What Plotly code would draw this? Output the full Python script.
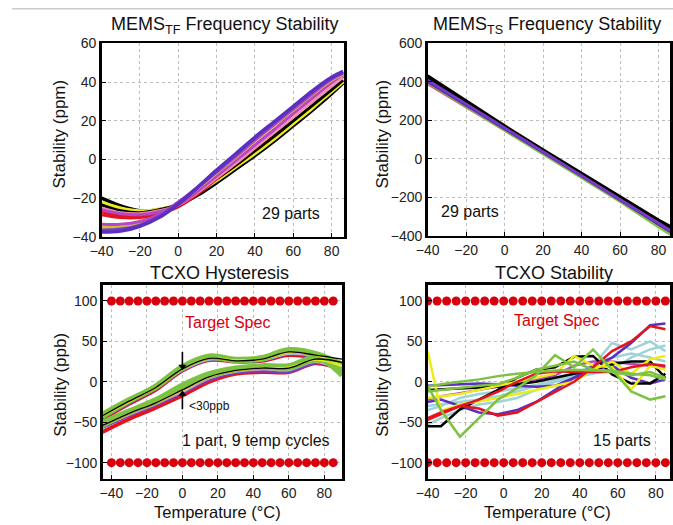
import plotly.graph_objects as go

# ---------------- DATA ----------------
# Panel 1: MEMS_TF frequency stability (ppm) vs temperature
tf_temps = [-40, -30, -20, -10, 0, 10, 20, 30, 40, 50, 60, 70, 80, 86]
tf_black1 = [-20, -24, -26.5, -26, -23.5, -18.5, -12, -5, 2, 9.5, 17.5, 25.5, 34, 39.5]
tf_yellow1 = [-22, -25, -26.5, -25.5, -23, -17.5, -11, -4, 3, 10.5, 18.5, 26.5, 35, 40]
tf_black2 = [-23.5, -26.5, -27.5, -26, -23, -17, -10, -3, 4.5, 12, 20, 28, 36, 41]
tf_pink = [-25, -27.5, -28, -26.5, -23.5, -17, -9.5, -2, 6, 14, 22, 30, 38, 42.5]
tf_red1 = [-27, -29, -29.5, -27.5, -24, -17.5, -9.5, -1.5, 6.5, 14.5, 23, 31, 39, 43]
tf_red2 = [-28.5, -30, -30, -28, -24.5, -18, -10, -2, 6, 14, 22.5, 30.5, 38.5, 43]
tf_magenta1 = [-26, -28, -28.5, -27, -23.5, -16.5, -8.5, -0.5, 7.5, 15.5, 24, 32, 40, 44]
tf_magenta2 = [-33.5, -33.5, -32, -28.5, -22, -14.5, -6.5, 1.5, 10, 18, 26, 34, 41.5, 44.5]
tf_olive = [-35, -35, -33, -29, -22.5, -15, -7, 1, 9.5, 17.5, 25.5, 33.5, 41, 44]
tf_purple = [-36.5, -36, -34, -29.5, -22.5, -14.5, -6, 2.5, 11, 19, 27, 35, 42, 45]
tf_violet = [-37.5, -37, -34.5, -30, -23, -14.5, -5.5, 3, 11.5, 19.5, 27.5, 35.5, 42.5, 45.5]

# Panel 2: MEMS_TS frequency stability (ppm)
ts_temps = [-40, -20, 0, 20, 40, 60, 80, 86]
ts_black1 = [432, 300, 172, 48, -75, -198, -318, -350]
ts_black2 = [420, 292, 166, 42, -80, -203, -325, -358]
ts_magenta = [405, 282, 158, 35, -88, -213, -338, -374]
ts_purple = [410, 285, 160, 37, -86, -210, -335, -370]
ts_red = [392, 272, 152, 31, -91, -216, -345, -382]
ts_pink = [388, 268, 150, 30, -92, -218, -348, -385]
ts_green = [395, 272, 150, 28, -95, -222, -355, -392]
ts_violet = [400, 278, 155, 33, -90, -215, -342, -378]

# Panel 3: TCXO hysteresis (ppb), 1 part, 9 temperature cycles
hy_temps = [-45, -30, -15, 0, 15, 30, 45, 60, 75, 90]
hy_lower_g1 = [-52, -37, -23, -6, 8, 16, 19, 18, 28, 18]
hy_upper_g1 = [-40, -22, -6, 18, 31, 27, 29, 39, 34, 12]
hy_lower_g2 = [-50, -36, -22, -4, 10, 17, 20, 20, 30, 10]
hy_upper_g2 = [-43, -24, -7, 17, 30, 26, 28, 38, 33, 8]
hy_lower_g3 = [-54, -38, -25, -8, 7, 15, 18, 17, 27, 20]
hy_upper_g3 = [-41, -23, -5, 19, 32, 28, 30, 40, 35, 22]
hy_lower_black = [-54, -39, -26, -10, 6, 14, 17, 17, 28, 24]
hy_upper_black = [-42, -24, -7, 16, 29, 26, 28, 37, 33, 28]
hy_lower_purple = [-56, -41, -28, -13, 3, 12, 14, 13, 24, 18]
hy_upper_purple = [-44, -26, -8, 15, 28, 26, 27, 35, 31, 20]
hy_lower_red = [-62, -46, -32, -17, 0, 10, 12, 12, 23, 15]
hy_upper_red = [-46, -27, -10, 14, 27, 25, 26, 33, 29, 18]
hy_lower_pink = [-55, -40, -27, -11, 5, 14, 16, 16, 26, 17]
hy_upper_pink = [-43, -25, -7, 17, 29, 26, 28, 36, 32, 16]
hy_lower_yellow = [-53, -39, -26, -11, 6, 14, 17, 18, 27, 19]
hy_upper_yellow = [-42, -25, -7, 16, 29, 27, 28, 36, 33, 20]
hy_lower_lblue = [-54, -40, -26, -12, 5, 13, 16, 15, 25, 14]
hy_upper_lblue = [-43, -24, -8, 15, 28, 26, 27, 35, 31, 14]

# "<30ppb" hysteresis markers at 0 degC: [tail, head] in ppb
hy_arrow_temp = 0
hy_arrow_top = [37, 19]
hy_arrow_bottom = [-34, -15]

# Panel 4: TCXO stability (ppb), 15 parts
st_temps = [-40, -33, -23, -13, -3, 7, 17, 27, 37, 47, 57, 67, 77, 85]
st_green1 = [-5, -35, -68, -45, -22, -8, 8, 33, 18, 40, 15, -12, -22, -18]
st_green2 = [-6, -3, 0, 3, 7, 10, 12, 14, 15, 14, 14, 10, 8, 3]
st_green3 = [-12, -10, -8, -5, -3, 5, 15, 20, 25, 15, 12, 8, 12, 5]
st_yellow1 = [38, -36, -28, -24, -20, -15, -10, -5, 0, 15, 25, 10, 28, 32]
st_yellow2 = [-20, -18, -15, -10, -5, 0, 5, 10, 32, 20, 18, -10, 20, 15]
st_black1 = [-55, -55, -34, -22, -10, 5, 15, 18, 31, 32, 9, -2, -2, 10]
st_black2 = [-10, -9, -8, -7, -6, -3, 0, 5, 10, 15, 22, 25, 25, 5]
st_red1 = [-47, -40, -30, -33, -42, -38, -25, -12, 0, 18, 38, 50, 69, 65]
st_red2 = [-45, -38, -30, -22, -12, 0, 10, 13, 12, 12, 12, 18, 22, 20]
st_violet1 = [-25, -22, -30, -38, -40, -35, -25, -10, 5, 20, 30, 48, 70, 72]
st_violet2 = [-5, -4, -3, -2, -3, -5, -6, -5, 5, 15, 20, 5, -2, 3]
st_magenta = [-22, -18, -14, -10, -6, -2, 2, 8, 20, 25, 25, 22, 20, 18]
st_lblue1 = [-53, -45, -35, -28, -25, -20, -10, 0, 10, 20, 48, 40, 50, 38]
st_lblue2 = [-30, -28, -25, -22, -18, -12, -5, 0, 5, 10, 15, 30, 40, 45]
st_lblue3 = [-35, -30, -20, -15, -12, -8, -4, 2, 8, 12, 30, 35, 30, 25]

# Target spec limits (ppb) at temperature points
spec_temps = [-40, -35, -30, -25, -20, -15, -10, -5, 0, 5, 10, 15, 20, 25, 30,
              35, 40, 45, 50, 55, 60, 65, 70, 75, 80, 85]
spec_limits = [100, -100]

# Tick labels
tf_yticks = [-40, -20, 0, 20, 40, 60]
ts_yticks = [-400, -200, 0, 200, 400, 600]
ppb_yticks = [-100, -50, 0, 50, 100]
temp_ticks = [-40, -20, 0, 20, 40, 60, 80]

# ---------------- STYLE ----------------
C_BLACK = "#000000"
C_YELLOW = "#ecec1a"
C_RED = "#e3141e"
C_PINK = "#f08cb8"
C_MAGENTA = "#b845c4"
C_PURPLE = "#7a3cc4"
C_VIOLET = "#5b2fc0"
C_OLIVE = "#c8c040"
C_GREEN = "#7dc242"
C_LBLUE = "#9fd3dc"
C_SPEC = "#d8000c"

FONT = "Liberation Sans, Arial, sans-serif"

fig = go.Figure()

def add_lines(xs, series, xa, ya, shape="linear"):
    for ys, color, w in series:
        fig.add_trace(go.Scatter(
            x=xs, y=ys, mode="lines", xaxis=xa, yaxis=ya,
            line=dict(color=color, width=w, shape=shape),
            hoverinfo="skip", showlegend=False))

# Panel 1
add_lines(tf_temps, [
    (tf_black1, C_BLACK, 3.5), (tf_yellow1, C_YELLOW, 3), (tf_black2, C_BLACK, 3),
    (tf_red2, C_RED, 3), (tf_red1, C_RED, 3), (tf_pink, C_PINK, 3),
    (tf_magenta1, C_MAGENTA, 3), (tf_olive, C_OLIVE, 3), (tf_magenta2, C_MAGENTA, 3),
    (tf_purple, C_PURPLE, 3.5), (tf_violet, C_VIOLET, 3.5),
], "x", "y", "spline")

# Panel 2
add_lines(ts_temps, [
    (ts_black1, C_BLACK, 3), (ts_black2, C_BLACK, 3),
    (ts_pink, C_PINK, 2.5), (ts_red, C_RED, 2.5), (ts_green, C_GREEN, 2.5),
    (ts_magenta, C_MAGENTA, 2.5), (ts_violet, C_VIOLET, 2.5), (ts_purple, C_PURPLE, 2.5),
], "x2", "y2")

# Panel 3
hy_cycles = [
    (hy_lower_red, hy_upper_red, C_RED, 4),
    (hy_lower_purple, hy_upper_purple, C_PURPLE, 4),
    (hy_lower_lblue, hy_upper_lblue, C_LBLUE, 3),
    (hy_lower_pink, hy_upper_pink, C_PINK, 3),
    (hy_lower_g1, hy_upper_g1, C_GREEN, 5),
    (hy_lower_g2, hy_upper_g2, C_GREEN, 5),
    (hy_lower_g3, hy_upper_g3, C_GREEN, 5),
    (hy_lower_yellow, hy_upper_yellow, C_YELLOW, 1.5),
    (hy_lower_black, hy_upper_black, C_BLACK, 1.3),
]
for lo, up, color, w in hy_cycles:
    add_lines(hy_temps, [(lo, color, w), (up, color, w)], "x3", "y3", "spline")

# hysteresis arrows (shaft + head)
for tail_head, sym in ((hy_arrow_top, "triangle-down"), (hy_arrow_bottom, "triangle-up")):
    fig.add_trace(go.Scatter(
        x=[hy_arrow_temp, hy_arrow_temp], y=tail_head, mode="lines",
        xaxis="x3", yaxis="y3", line=dict(color="black", width=1.6),
        hoverinfo="skip", showlegend=False))
    fig.add_trace(go.Scatter(
        x=[hy_arrow_temp], y=[tail_head[1]], mode="markers",
        xaxis="x3", yaxis="y3",
        marker=dict(symbol=sym, size=7, color="black", line=dict(width=0)),
        hoverinfo="skip", showlegend=False))

# Panel 4
add_lines(st_temps, [
    (st_lblue3, C_LBLUE, 2.5), (st_lblue2, C_LBLUE, 2.5), (st_lblue1, C_LBLUE, 2.5),
    (st_magenta, C_MAGENTA, 2.5), (st_violet2, C_VIOLET, 2.5), (st_violet1, C_VIOLET, 2.5),
    (st_black2, C_BLACK, 2.5), (st_black1, C_BLACK, 2.5),
    (st_yellow2, C_YELLOW, 2.5), (st_yellow1, C_YELLOW, 2.5),
    (st_red2, C_RED, 2.5), (st_red1, C_RED, 2.5),
    (st_green3, C_GREEN, 2.5), (st_green2, C_GREEN, 2.5), (st_green1, C_GREEN, 2.5),
], "x4", "y4")

# Spec dots
for xa, ya in (("x3", "y3"), ("x4", "y4")):
    for lim in spec_limits:
        fig.add_trace(go.Scatter(
            x=spec_temps, y=[lim] * len(spec_temps), mode="markers",
            xaxis=xa, yaxis=ya, marker=dict(color=C_SPEC, size=9, line=dict(width=0)),
            hoverinfo="skip", showlegend=False))

def ax_style(**kw):
    d = dict(showline=True, linecolor="black", linewidth=2.5, mirror=True,
             ticks="inside", ticklen=4, tickcolor="black", tickwidth=1,
             showgrid=True, gridcolor="#bdbdbd", griddash="dot", gridwidth=1,
             zeroline=False, tickfont=dict(family=FONT, size=14, color="#222"),
             fixedrange=True)
    d.update(kw)
    return d

# map reference-picture pixel positions to paper fractions
# (the photographed page shows the figure slightly offset and scaled)
def px_x(p):
    return ((p - 8.0) / 0.976) / 673.0

def px_y(p):
    return 1 - ((p - 7.5) / 0.972) / 525.0

fig.update_layout(
    width=673, height=525,
    margin=dict(l=0, r=0, t=0, b=0),
    paper_bgcolor="white", plot_bgcolor="white",
    showlegend=False,
    font=dict(family=FONT, color="#111"),
    xaxis=ax_style(domain=[px_x(97), px_x(338)], range=[-40, 86.5], anchor="y", tickvals=temp_ticks),
    yaxis=ax_style(domain=[px_y(237), px_y(43)], range=[-40, 60], anchor="x", tickvals=tf_yticks),
    xaxis2=ax_style(domain=[px_x(421), px_x(662)], range=[-40, 86], anchor="y2", tickvals=temp_ticks),
    yaxis2=ax_style(domain=[px_y(236), px_y(43)], range=[-400, 600], anchor="x2", tickvals=ts_yticks),
    xaxis3=ax_style(domain=[px_x(98), px_x(336)], range=[-45, 90], anchor="y3", tickvals=temp_ticks),
    yaxis3=ax_style(domain=[px_y(479.5), px_y(285)], range=[-120, 120], anchor="x3", tickvals=ppb_yticks),
    xaxis4=ax_style(domain=[px_x(421), px_x(662)], range=[-40, 87.5], anchor="y4", tickvals=temp_ticks),
    yaxis4=ax_style(domain=[px_y(479.5), px_y(285)], range=[-120, 120], anchor="x4", tickvals=ppb_yticks),
)

# top gray band
fig.add_shape(type="rect", xref="paper", yref="paper", x0=0, x1=1,
              y0=px_y(9), y1=1, fillcolor="#cccccc", line=dict(width=0), layer="below")

ann = []
def text(x, y, s, size, color="#111", xref="paper", yref="paper", angle=0, xanchor="center"):
    ann.append(dict(x=x, y=y, xref=xref, yref=yref, text=s, showarrow=False,
                    textangle=angle, xanchor=xanchor, yanchor="middle",
                    font=dict(family=FONT, size=size, color=color)))

# titles
text(px_x(219), px_y(25), "MEMS<sub>TF</sub> Frequency Stability", 18)
text(px_x(540), px_y(25), "MEMS<sub>TS</sub> Frequency Stability", 18)
text(px_x(214), px_y(273), "TCXO Hysteresis", 18)
text(px_x(547), px_y(273), "TCXO Stability", 18)
# y-axis titles
for xp, yp, s in ((55, 134, "Stability (ppm)"), (376, 134, "Stability (ppm)"),
                  (56, 385, "Stability (ppb)"), (376, 385, "Stability (ppb)")):
    text(px_x(xp), px_y(yp), s, 17, angle=-90)
# x-axis titles
text(px_x(212), px_y(512.5), "Temperature (°C)", 16.5)
text(px_x(540), px_y(512.5), "Temperature (°C)", 16.5)

# in-plot labels
text(59, -28, "29 parts", 16, xref="x", yref="y")
text(-18, -275, "29 parts", 16, xref="x2", yref="y2")
text(25.5, 73, "Target Spec", 16, color=C_SPEC, xref="x3", yref="y3")
text(28, 76, "Target Spec", 16, color=C_SPEC, xref="x4", yref="y4")
text(41.5, -73, "1 part, 9 temp cycles", 16, xref="x3", yref="y3")
text(62, -73, "15 parts", 16, xref="x4", yref="y4")
text(2.5, -30, "&lt;30ppb", 12, xref="x3", yref="y3", xanchor="left")

fig.update_layout(annotations=ann)
fig.write_html(
    "out.html",
    config={"displayModeBar": False, "staticPlot": True},
    post_script="document.body.style.margin='0';document.body.style.padding='0';",
)
